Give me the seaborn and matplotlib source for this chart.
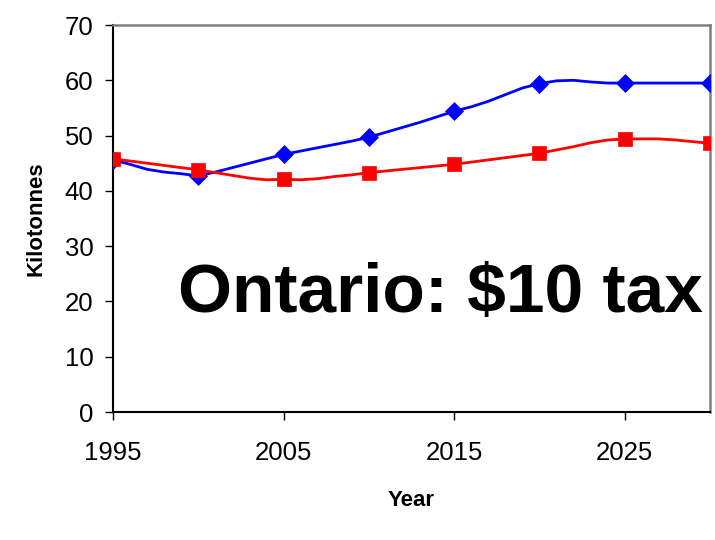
import numpy as np
import pandas as pd
import seaborn as sns
import matplotlib
matplotlib.use("Agg")
import matplotlib.pyplot as plt
from matplotlib import font_manager

# Annual projections, 1995-2030 (kilotonnes)
years = list(range(1995, 2031))
base_case = [45.6, 44.8, 43.9, 43.4, 43.1, 42.7, 43.4, 44.2, 45.0, 45.8,
             46.6, 47.2, 47.8, 48.4, 49.0, 49.7, 50.6, 51.5, 52.4, 53.4,
             54.4, 55.2, 56.2, 57.4, 58.6, 59.4, 59.9, 60.0, 59.7, 59.5,
             59.5, 59.5, 59.5, 59.5, 59.5, 59.5]
tax_case = [45.8, 45.4, 45.0, 44.6, 44.2, 43.8, 43.3, 42.8, 42.3, 42.0,
            42.1, 42.0, 42.2, 42.6, 42.9, 43.3, 43.6, 43.9, 44.2, 44.5,
            44.8, 45.2, 45.6, 46.0, 46.4, 46.8, 47.4, 48.0, 48.7, 49.2,
            49.4, 49.4, 49.4, 49.2, 48.9, 48.6]
x_ticks = [1995, 2005, 2015, 2025]
y_ticks = [0, 10, 20, 30, 40, 50, 60, 70]
title_text = "Ontario: $10 tax"

df = pd.DataFrame({"Year": years, "Base": base_case, "Tax": tax_case})

sns.set_style("white")
installed = {f.name for f in font_manager.fontManager.ttflist}
narrow = "Liberation Sans Narrow" if "Liberation Sans Narrow" in installed else "Liberation Sans"
plt.rcParams["font.family"] = ["Liberation Sans", "DejaVu Sans"]
plt.rcParams["text.color"] = "black"
plt.rcParams["axes.labelcolor"] = "black"
plt.rcParams["xtick.color"] = "black"
plt.rcParams["ytick.color"] = "black"

fig = plt.figure(figsize=(7.15, 5.4), dpi=100)
ax = fig.add_axes([0.158, 0.237, 0.835, 0.7167])

sns.lineplot(data=df, x="Year", y="Base", ax=ax, color="#0000FF", linewidth=2.0,
             marker="D", markersize=9, markeredgewidth=0.5, markeredgecolor="#0000FF",
             markevery=5, zorder=3)
sns.lineplot(data=df, x="Year", y="Tax", ax=ax, color="#FF0000", linewidth=2.0,
             marker="s", markersize=10.5, markeredgewidth=0.5, markeredgecolor="#FF0000",
             markevery=5, zorder=4)

ax.set_xlim(1995, 2030)
ax.set_ylim(0, 70)
ax.set_xticks(x_ticks)
ax.set_yticks(y_ticks)
ax.set_xticklabels([str(t) for t in x_ticks], fontfamily=narrow, fontsize=18.5, color="black")
ax.set_yticklabels([str(t) for t in y_ticks], fontfamily=narrow, fontsize=18.5, color="black")
ax.tick_params(axis="x", direction="out", length=6, width=1, color="black", pad=15, bottom=True)
ax.tick_params(axis="y", direction="out", length=6, width=1, color="black", pad=8, left=True)

for side in ("left", "bottom"):
    ax.spines[side].set_color("black")
    ax.spines[side].set_linewidth(1.5)
for side in ("top", "right"):
    ax.spines[side].set_visible(True)
    ax.spines[side].set_color("#808080")
    ax.spines[side].set_linewidth(1.8)

ax.set_xlabel("Year", fontfamily=narrow, fontweight="bold", fontsize=16, labelpad=18, color="black")
ax.set_ylabel("Kilotonnes", fontweight="bold", fontsize=16, labelpad=13, color="black")
ax.grid(False)

ax.text(0.988, 0.258, title_text, transform=ax.transAxes, ha="right", va="baseline",
        fontsize=50, fontweight="bold", color="black", zorder=5)

fig.savefig("out.png", dpi=100)
